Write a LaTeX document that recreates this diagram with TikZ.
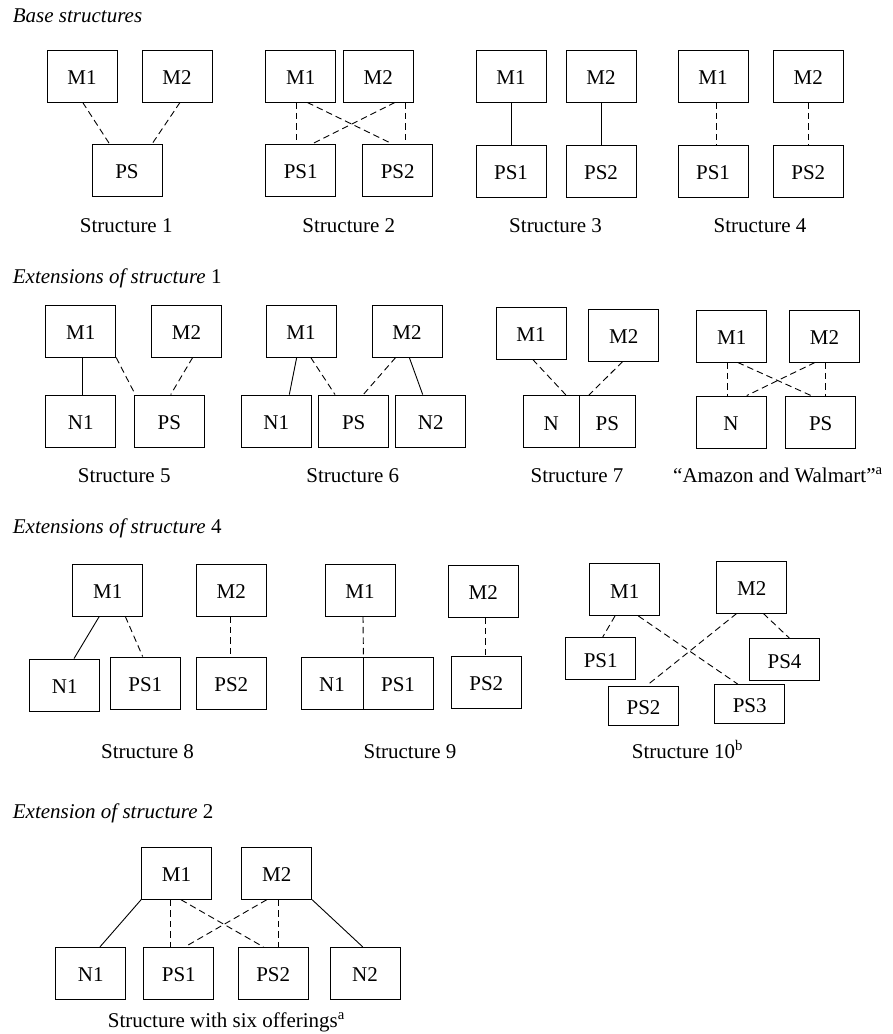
\documentclass[tikz,border=0pt]{standalone}
\usepackage{fontspec}
\setmainfont{Liberation Serif}
\begin{document}
\begin{tikzpicture}[x=1pt,y=-1pt,
  box/.style={draw, line width=0.9pt, minimum width=70pt, minimum height=52pt,
              inner sep=0pt, text height=17pt, text depth=0pt,
              font=\fontsize{21}{25}\selectfont},
  lowbox/.style={box, minimum height=42pt},
  flatbox/.style={box, minimum height=39pt},
  caption/.style={anchor=base, inner sep=0pt, font=\fontsize{21}{25}\selectfont},
  head/.style={anchor=base west, inner sep=0pt, font=\fontsize{21}{25}\selectfont},
  link/.style={line width=0.9pt},
  dlink/.style={line width=0.9pt, dash pattern=on 6.5pt off 4pt}]
\useasboundingbox (0,0) rectangle (893,1034);

% ---------- Base structures ----------
\node[head] (h1) at (12.7,22.7) {\textit{Base structures}};

% Structure 1
\node[box] (a1) at (82,76) {M1};
\node[box] (a2) at (177,76) {M2};
\node[box] (ap) at (127,170) {PS};
\draw[dlink] ([xshift=0.7pt]a1.south) -- ([xshift=-17.7pt]ap.north);
\draw[dlink] ([xshift=3pt]a2.south) -- ([xshift=25.3pt]ap.north);
\node[caption] (c1) at (126.2,232.3) {Structure 1};

% Structure 2
\node[box] (b1) at (300.7,76) {M1};
\node[box] (b2) at (378.3,76) {M2};
\node[box] (bp1) at (300.7,170) {PS1};
\node[box] (bp2) at (397.7,170) {PS2};
\draw[dlink] ([xshift=-4pt]b1.south) -- ([xshift=-4pt]bp1.north);
\draw[dlink] ([xshift=26.7pt]b2.south) -- ([xshift=7.3pt]bp2.north);
\draw[dlink] ([xshift=6.6pt]b1.south) -- ([xshift=-6pt]bp2.north);
\draw[dlink] ([xshift=16.7pt]b2.south) -- ([xshift=12pt]bp1.north);
\node[caption] (c2) at (348.8,232.3) {Structure 2};

% Structure 3
\node[box] (d1) at (511,76) {M1};
\node[box] (d2) at (601,76) {M2};
\node[box] (dp1) at (511,171) {PS1};
\node[box] (dp2) at (601,171) {PS2};
\draw[link] (d1.south) -- (dp1.north);
\draw[link] (d2.south) -- (dp2.north);
\node[caption] (c3) at (555.6,232.3) {Structure 3};

% Structure 4
\node[box] (e1) at (713,76) {M1};
\node[box] (e2) at (808.3,76) {M2};
\node[box] (ep1) at (713,171) {PS1};
\node[box] (ep2) at (808.3,171) {PS2};
\draw[dlink] ([xshift=3pt]e1.south) -- ([xshift=3pt]ep1.north);
\draw[dlink] (e2.south) -- (ep2.north);
\node[caption] (c4) at (760,232.3) {Structure 4};

% ---------- Extensions of structure 1 ----------
\node[head] (h2) at (12.7,283.3) {\textit{Extensions of structure} 1};

% Structure 5
\node[box] (f1) at (80.7,331) {M1};
\node[box] (f2) at (186.5,331) {M2};
\node[box] (fn) at (80.7,421) {N1};
\node[box] (fp) at (169.3,421) {PS};
\draw[link] ([xshift=1.6pt]f1.south) -- ([xshift=1.6pt]fn.north);
\draw[dlink] (f1.south east) -- ([xshift=1.4pt]fp.north west);
\draw[dlink] ([xshift=6.2pt]f2.south) -- ([xshift=1.4pt]fp.north);
\node[caption] (c5) at (124.2,482) {Structure 5};

% Structure 6
\node[box] (g1) at (301,331) {M1};
\node[box] (g2) at (407,331) {M2};
\node[box] (gn1) at (276.3,421) {N1};
\node[box] (gp) at (353.7,421) {PS};
\node[box] (gn2) at (430.7,421) {N2};
\draw[link] ([xshift=-4.3pt]g1.south) -- ([xshift=13pt]gn1.north);
\draw[dlink] ([xshift=9.7pt]g1.south) -- ([xshift=-18.7pt]gp.north);
\draw[dlink] ([xshift=-11.3pt]g2.south) -- ([xshift=9.6pt]gp.north);
\draw[link] ([xshift=2.3pt]g2.south) -- ([xshift=-8pt]gn2.north);
\node[caption] (c6) at (352.7,482) {Structure 6};

% Structure 7
\node[box] (k1) at (531,333) {M1};
\node[box] (k2) at (623.7,335) {M2};
\node[box, minimum width=56pt] (kn) at (551.3,421.5) {N};
\node[box, minimum width=56pt] (kp) at (607.3,421.5) {PS};
\draw[dlink] ([xshift=1.7pt]k1.south) -- ([xshift=14.7pt]kn.north);
\draw[dlink] ([xshift=-1pt]k2.south) -- ([xshift=-18.3pt]kp.north);
\node[caption] (c7) at (577,482) {Structure 7};

% Amazon and Walmart
\node[box] (w1) at (731.7,336) {M1};
\node[box] (w2) at (824.5,336) {M2};
\node[box] (wn) at (731,422) {N};
\node[box] (wp) at (820.7,422) {PS};
\draw[dlink] ([xshift=-4.7pt]w1.south) -- ([xshift=-4pt]wn.north);
\draw[dlink] ([xshift=1.2pt]w2.south) -- ([xshift=5pt]wp.north);
\draw[dlink] ([xshift=6pt]w1.south) -- ([xshift=-9.7pt]wp.north);
\draw[dlink] ([xshift=-9.5pt]w2.south) -- ([xshift=15.7pt]wn.north);
\node[caption, anchor=base west] (cw) at (673,482) {“Amazon and Walmart”\textsuperscript{a}};

% ---------- Extensions of structure 4 ----------
\node[head] (h3) at (12.7,533) {\textit{Extensions of structure} 4};

% Structure 8
\node[box] (p1) at (107.7,590) {M1};
\node[box] (p2) at (231.3,590) {M2};
\node[box] (pn) at (64.7,685) {N1};
\node[box] (pp1) at (145.3,683) {PS1};
\node[box] (pp2) at (231.3,683) {PS2};
\draw[link] ([xshift=-8.4pt]p1.south) -- ([xshift=9.3pt]pn.north);
\draw[dlink] ([xshift=17.6pt]p1.south) -- ([xshift=-2.6pt]pp1.north);
\draw[dlink] ([xshift=-1.3pt]p2.south) -- ([xshift=-1.3pt]pp2.north);
\node[caption] (c8) at (147.5,758) {Structure 8};

% Structure 9
\node[box] (q1) at (360,590) {M1};
\node[box, minimum width=62pt] (qn) at (332,683) {N1};
\node[box] (qp1) at (398,683) {PS1};
\node[box] (q2) at (483.3,591) {M2};
\node[box] (qp2) at (486.3,682) {PS2};
\draw[dlink] ([xshift=3pt]q1.south) -- (qn.north east);
\draw[dlink] ([xshift=1.7pt]q2.south) -- ([xshift=-1.3pt]qp2.north);
\node[caption] (c9) at (410,758) {Structure 9};

% Structure 10
\node[box] (r1) at (624.7,589.5) {M1};
\node[box] (r2) at (751.8,587) {M2};
\node[lowbox] (rp1) at (600.7,658.5) {PS1};
\node[flatbox] (rp2) at (643.5,705.5) {PS2};
\node[flatbox] (rp3) at (749.7,704) {PS3};
\node[lowbox] (rp4) at (784.5,659.5) {PS4};
\draw[dlink] ([xshift=-9.7pt]r1.south) -- ([xshift=2pt]rp1.north);
\draw[dlink] ([xshift=13.6pt]r1.south) -- ([xshift=-12pt]rp3.north);
\draw[dlink] ([xshift=-15.1pt]r2.south) -- ([xshift=3.2pt]rp2.north);
\draw[dlink] ([xshift=11.5pt]r2.south) -- ([xshift=4.8pt]rp4.north);
\node[caption, anchor=base west] (c10) at (631.7,758) {Structure 10\textsuperscript{b}};

% ---------- Extension of structure 2 ----------
\node[head] (h4) at (12.7,818.3) {\textit{Extension of structure} 2};

\node[box] (s1) at (176.5,873.3) {M1};
\node[box] (s2) at (276.7,873.3) {M2};
\node[box] (sn1) at (90.7,973.3) {N1};
\node[box] (sp1) at (178.8,973.3) {PS1};
\node[box] (sp2) at (273.2,973.3) {PS2};
\node[box] (sn2) at (365,973.3) {N2};
\draw[link] (s1.south west) -- ([xshift=9.3pt]sn1.north);
\draw[dlink] ([xshift=-6.5pt]s1.south) -- ([xshift=-8.8pt]sp1.north);
\draw[dlink] ([xshift=4.5pt]s1.south) -- ([xshift=-9.9pt]sp2.north);
\draw[dlink] ([xshift=-10pt]s2.south) -- ([xshift=6.2pt]sp1.north);
\draw[dlink] ([xshift=2pt]s2.south) -- ([xshift=5.5pt]sp2.north);
\draw[link] (s2.south east) -- ([xshift=-2.3pt]sn2.north);
\node[caption, anchor=base west] (cs) at (107.7,1027) {Structure with six offerings\textsuperscript{a}};
\end{tikzpicture}
\end{document}
